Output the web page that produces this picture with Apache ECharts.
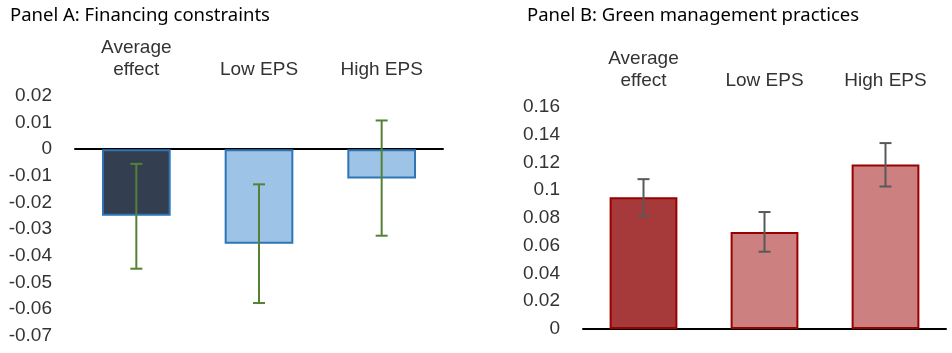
<!DOCTYPE html>
<html>
<head>
<meta charset="utf-8">
<script src="https://cdn.jsdelivr.net/npm/echarts@6/dist/echarts.min.js"></script>
<style>
  html, body { margin: 0; padding: 0; background: #fff; }
  #main { width: 952px; height: 353px; }
</style>
</head>
<body>
<div id="main"></div>
<script>
// categories shared by both panels
var categories = ['Average\neffect', 'Low EPS', 'High EPS'];

// Panel A: financing constraints (point estimate + CI bounds)
var finMean = [-0.025, -0.0355, -0.011];
var finLow = [-0.0449, -0.0578, -0.0325];
var finHigh = [-0.0055, -0.0132, 0.0108];

// Panel B: green management practices
var greenMean = [0.095, 0.070, 0.1185];
var greenLow = [0.0815, 0.0557, 0.1027];
var greenHigh = [0.108, 0.0843, 0.134];

var fillA = ['#333f50', '#9dc3e6', '#9dc3e6'];
var fillB = ['#a63a3a', '#cc8080', '#cc8080'];

var labelFont = 'Liberation Sans';

function barData(vals, fills, border) {
    return vals.map(function (v, i) {
        return { value: v, itemStyle: { color: fills[i], borderColor: border, borderWidth: 2 } };
    });
}

function errData(lo, hi) {
    return lo.map(function (l, i) { return [i, l, hi[i]]; });
}

function errRender(color) {
    return function (params, api) {
        var top = api.coord([api.value(0), api.value(2)]);
        var bot = api.coord([api.value(0), api.value(1)]);
        var cap = 6;
        var st = { stroke: color, lineWidth: 2 };
        return {
            type: 'group',
            children: [
                { type: 'line', shape: { x1: top[0], y1: top[1], x2: bot[0], y2: bot[1] }, style: st },
                { type: 'line', shape: { x1: top[0] - cap, y1: top[1], x2: top[0] + cap, y2: top[1] }, style: st },
                { type: 'line', shape: { x1: bot[0] - cap, y1: bot[1], x2: bot[0] + cap, y2: bot[1] }, style: st }
            ]
        };
    };
}

function topAxis(gridIndex) {
    return {
        type: 'category', gridIndex: gridIndex, position: 'top', data: categories,
        axisLine: { show: false, onZero: false }, axisTick: { show: false },
        axisLabel: { color: '#333', fontSize: 19, fontFamily: labelFont, lineHeight: 22, margin: 15 }
    };
}

function zeroAxis(gridIndex) {
    return {
        type: 'category', gridIndex: gridIndex, position: 'bottom', data: categories,
        axisLine: { show: true, onZero: true, lineStyle: { color: '#000', width: 2 } },
        axisTick: { show: false }, axisLabel: { show: false }
    };
}

function valAxis(gridIndex, min, max, interval) {
    return {
        type: 'value', gridIndex: gridIndex, min: min, max: max, interval: interval,
        axisLine: { show: false }, axisTick: { show: false }, splitLine: { show: false },
        axisLabel: { color: '#333', fontSize: 19, fontFamily: labelFont, margin: 23 }
    };
}

var myChart = echarts.init(document.getElementById('main'));

var option = {
    animation: false,
    title: [
        { text: 'Panel A: Financing constraints', left: 5, top: 1,
          textStyle: { fontFamily: 'Noto Sans', fontSize: 18.5, fontWeight: 'normal', color: '#000' } },
        { text: 'Panel B: Green management practices', left: 522, top: 1,
          textStyle: { fontFamily: 'Noto Sans', fontSize: 18.5, fontWeight: 'normal', color: '#000' } }
    ],
    grid: [
        { left: 75, right: 509, top: 96, bottom: 17.5 },
        { left: 583, right: 6, top: 107, bottom: 24 }
    ],
    xAxis: [topAxis(0), zeroAxis(0), topAxis(1), zeroAxis(1)],
    yAxis: [valAxis(0, -0.07, 0.02, 0.01), valAxis(1, 0, 0.16, 0.02)],
    series: [
        { type: 'bar', xAxisIndex: 0, yAxisIndex: 0, barWidth: '56%', data: barData(finMean, fillA, '#2e75b6') },
        { type: 'custom', xAxisIndex: 0, yAxisIndex: 0, z: 10, renderItem: errRender('#548235'), data: errData(finLow, finHigh) },
        { type: 'bar', xAxisIndex: 2, yAxisIndex: 1, barWidth: '56%', data: barData(greenMean, fillB, '#990000') },
        { type: 'custom', xAxisIndex: 2, yAxisIndex: 1, z: 10, renderItem: errRender('#595959'), data: errData(greenLow, greenHigh) }
    ]
};

myChart.setOption(option);
</script>
</body>
</html>
